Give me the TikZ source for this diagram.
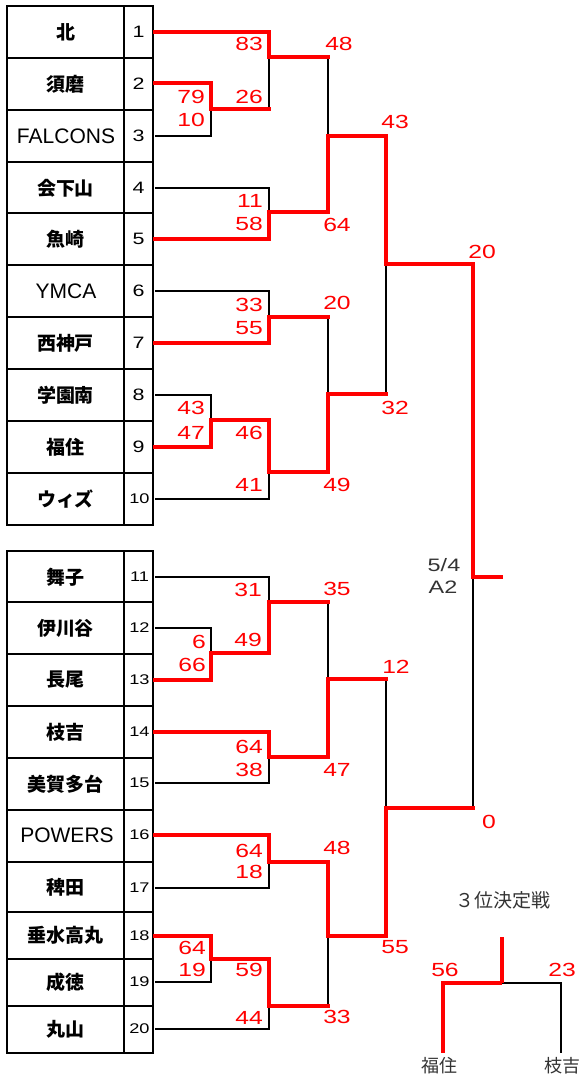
\documentclass[tikz,border=0pt]{standalone}
\usepackage{fontspec}
\setmainfont{Liberation Sans}
\newfontfamily\jp{Noto Sans CJK JP}
\newfontfamily\lat{Liberation Sans}
\newfontfamily\numf[FakeStretch=1.3]{Liberation Sans}
\definecolor{notegray}{HTML}{333333}
\begin{document}
\begin{tikzpicture}[x=1pt,y=-1pt,
  redl/.style={draw=red, line width=4pt, line cap=rect},
  blkl/.style={draw=black, line width=1.8pt},
  tbl/.style={draw=black, line width=2.2pt},
  tname/.style={font=\jp\bfseries\fontsize{19}{19}\selectfont, inner sep=0pt},
  lname/.style={font=\lat\fontsize{21}{21}\selectfont, inner sep=0pt},
  tnum/.style={font=\numf\fontsize{16.5}{16.5}\selectfont, inner sep=0pt},
  tnumb/.style={font=\numf\fontsize{14}{14}\selectfont, inner sep=0pt},
  sc/.style={font=\numf\fontsize{19}{19}\selectfont, text=red, inner sep=0pt},
  scr/.style={sc, anchor=east},
  note/.style={font=\numf\fontsize{18}{18}\selectfont, text=notegray, inner sep=0pt},
  jnote/.style={font=\jp\fontsize{18}{18}\selectfont, text=notegray, inner sep=0pt}
]
\useasboundingbox (0,0) rectangle (580,1077);

% ---------- tables ----------
\draw[tbl] (7,6) rectangle (153,525);
\draw[tbl] (124,6) -- (124,525);
\foreach \yy in {58,110,162,213,265,317,369,421,473} \draw[tbl] (7,\yy) -- (153,\yy);
\draw[tbl] (7,551) rectangle (153,1053);
\draw[tbl] (124,551) -- (124,1053);
\foreach \yy in {602,654,706,758,810,862,912,959,1006} \draw[tbl] (7,\yy) -- (153,\yy);

% team names
\node[tname] (n1) at (65.5,32) {北};
\node[tname] (n2) at (65.5,84) {須磨};
\node[lname] (n3) at (66,136) {FALCONS};
\node[tname] (n4) at (65.5,188) {会下山};
\node[tname] (n5) at (65.5,239) {魚崎};
\node[lname] (n6) at (66,291) {YMCA};
\node[tname] (n7) at (65.5,343) {西神戸};
\node[tname] (n8) at (65.5,395) {学園南};
\node[tname] (n9) at (65.5,447) {福住};
\node[tname] (n10) at (65.5,499) {ウィズ};
\node[tname] (n11) at (65.5,577) {舞子};
\node[tname] (n12) at (65.5,628) {伊川谷};
\node[tname] (n13) at (65.5,680) {長尾};
\node[tname] (n14) at (65.5,732) {枝吉};
\node[tname] (n15) at (65.5,784) {美賀多台};
\node[lname] (n16) at (67,835) {POWERS};
\node[tname] (n17) at (65.5,887) {稗田};
\node[tname] (n18) at (65.5,935) {垂水高丸};
\node[tname] (n19) at (65.5,982) {成徳};
\node[tname] (n20) at (65.5,1029) {丸山};

% team numbers
\node[tnum] (k1) at (138.5,32) {1};
\node[tnum] (k2) at (138.5,84) {2};
\node[tnum] (k3) at (138.5,136) {3};
\node[tnum] (k4) at (138.5,188) {4};
\node[tnum] (k5) at (138.5,239) {5};
\node[tnum] (k6) at (138.5,291) {6};
\node[tnum] (k7) at (138.5,343) {7};
\node[tnum] (k8) at (138.5,395) {8};
\node[tnum] (k9) at (138.5,447) {9};
\node[tnumb] (k10) at (139.5,499) {10};
\node[tnumb] (k11) at (139.5,577) {11};
\node[tnumb] (k12) at (139.5,628) {12};
\node[tnumb] (k13) at (139.5,680) {13};
\node[tnumb] (k14) at (139.5,732) {14};
\node[tnumb] (k15) at (139.5,783) {15};
\node[tnumb] (k16) at (139.5,835) {16};
\node[tnumb] (k17) at (139.5,888) {17};
\node[tnumb] (k18) at (139.5,936) {18};
\node[tnumb] (k19) at (139.5,982) {19};
\node[tnumb] (k20) at (139.5,1029) {20};

% ---------- bracket coordinates ----------
\foreach \i/\yy in {1/32,2/83,3/136,4/188,5/239,6/291,7/343,8/395,9/447,10/499,
                    11/577,12/628,13/680,14/732,15/783,16/835,17/888,18/936,19/982,20/1029}
  \coordinate (t\i) at (155,\yy);
\coordinate (m23) at (211,109);
\coordinate (m1) at (269,57);
\coordinate (m45) at (269,212);
\coordinate (s1) at (328,136);
\coordinate (m67) at (269,317);
\coordinate (m89) at (211,420);
\coordinate (m910) at (269,472);
\coordinate (s2) at (328,394);
\coordinate (q1) at (386,264);
\coordinate (F) at (473,577);
\coordinate (fe) at (501,577);
\coordinate (m1213) at (211,653);
\coordinate (m11) at (269,602);
\coordinate (m1415) at (269,757);
\coordinate (s3) at (328,679);
\coordinate (m1617) at (269,862);
\coordinate (m1819) at (211,959);
\coordinate (m20) at (269,1006);
\coordinate (s4) at (328,936);
\coordinate (q2) at (386,808);

% losers (black)
\draw[blkl] (t3) -| (m23);
\draw[blkl] (t4) -| (m45);
\draw[blkl] (t6) -| (m67);
\draw[blkl] (t8) -| (m89);
\draw[blkl] (t10) -| (m910);
\draw[blkl] (m23 -| m1) -- (m1);
\draw[blkl] (m1 -| s1) -- (s1);
\draw[blkl] (m67 -| s2) -- (s2);
\draw[blkl] (s2 -| q1) -- (q1);
\draw[blkl] (t11) -| (m11);
\draw[blkl] (t12) -| (m1213);
\draw[blkl] (t15) -| (m1415);
\draw[blkl] (t17) -| (m1617);
\draw[blkl] (t19) -| (m1819);
\draw[blkl] (t20) -| (m20);
\draw[blkl] (m11 -| s3) -- (s3);
\draw[blkl] (s3 -| q2) -- (q2);
\draw[blkl] (m20 -| s4) -- (s4);
\draw[blkl] (q2 -| F) -- (F);

% winners (red)
\draw[redl] (t5) -| (m45) -| (s1) -| (q1) -| (F) -- (fe);
\draw[redl] (t1) -| (m1) -- (m1 -| s1);
\draw[redl] (t2) -| (m23) -- (m23 -| m1);
\draw[redl] (t7) -| (m67) -- (m67 -| s2);
\draw[redl] (t9) -| (m89) -| (m910) -| (s2) -- (s2 -| q1);
\draw[redl] (t16) -| (m1617) -| (s4) -| (q2) -- (q2 -| F);
\draw[redl] (t14) -| (m1415) -| (s3) -- (s3 -| q2);
\draw[redl] (t13) -| (m1213) -| (m11) -- (m11 -| s3);
\draw[redl] (t18) -| (m1819) -| (m20) -- (m20 -| s4);

% ---------- scores ----------
\node[scr] (a1) at (263,44) {83};
\node[scr] (a2) at (263,97) {26};
\node[scr] (a3) at (205,97) {79};
\node[scr] (a4) at (205,120) {10};
\node[sc]  (a5) at (339,44) {48};
\node[scr] (a6) at (263,201) {11};
\node[scr] (a7) at (263,224) {58};
\node[sc]  (a8) at (337,225) {64};
\node[sc]  (a9) at (395,122) {43};
\node[sc]  (a10) at (482,252) {20};
\node[sc]  (a11) at (337,303) {20};
\node[scr] (a12) at (263,305) {33};
\node[scr] (a13) at (263,328) {55};
\node[scr] (a14) at (205,408) {43};
\node[scr] (a15) at (205,433) {47};
\node[scr] (a16) at (263,433) {46};
\node[scr] (a17) at (263,485) {41};
\node[sc]  (a18) at (337,485) {49};
\node[sc]  (a19) at (395,408) {32};

\node[scr] (b1) at (262,590) {31};
\node[scr] (b2) at (262,640) {49};
\node[scr] (b3) at (206,642) {6};
\node[scr] (b4) at (206,665) {66};
\node[sc]  (b5) at (337,589) {35};
\node[sc]  (b6) at (396,667) {12};
\node[scr] (b7) at (263,747) {64};
\node[scr] (b8) at (263,770) {38};
\node[sc]  (b9) at (337,770) {47};
\node[sc]  (b10) at (489,822) {0};
\node[scr] (b11) at (263,851) {64};
\node[scr] (b12) at (263,872) {18};
\node[sc]  (b13) at (337,848) {48};
\node[scr] (b14) at (206,948) {64};
\node[scr] (b15) at (206,970) {19};
\node[scr] (b16) at (263,970) {59};
\node[scr] (b17) at (263,1018) {44};
\node[sc]  (b18) at (337,1017) {33};
\node[sc]  (b19) at (395,947) {55};

% final note
\node[note] (d1) at (444,565) {5/4};
\node[note] (d2) at (443,587) {A2};

% ---------- third place ----------
\node[font=\jp\fontsize{19}{19}\selectfont, text=notegray, inner sep=0pt] (tt) at (503,900) {３位決定戦};
\node[jnote] (p1) at (439,1066) {福住};
\node[jnote] (p2) at (562,1066) {枝吉};
\coordinate (tp) at (502,937);
\coordinate (tj) at (502,983);
\coordinate (tl) at (443,983);
\coordinate (tr) at (561,983);
\coordinate (bl) at (443,1053);
\coordinate (br) at (561,1053);
\draw[blkl] (tj) -- (tr) -- (br);
\draw[redl, line cap=butt] (tp) -- (tj);
\draw[redl, line cap=butt] (tj) -- (tl) -- (bl);
\node[sc] (c1) at (445,970) {56};
\node[sc] (c2) at (562,970) {23};
\end{tikzpicture}
\end{document}
